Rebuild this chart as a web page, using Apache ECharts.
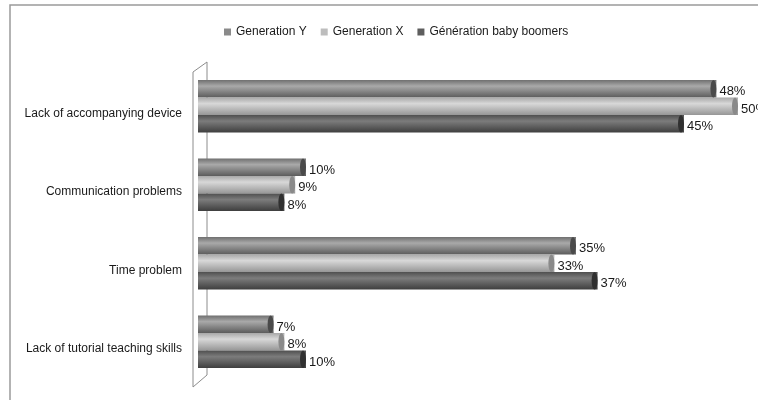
<!DOCTYPE html>
<html>
<head>
<meta charset="utf-8">
<script src="https://cdn.jsdelivr.net/npm/echarts@6/dist/echarts.min.js"></script>
<style>
  html, body { margin: 0; padding: 0; background: #fff; }
  #chart { width: 758px; height: 400px; }
</style>
</head>
<body>
<div id="chart"></div>
<script>
  // data
  var categories = ['Lack of accompanying device', 'Communication problems', 'Time problem', 'Lack of tutorial teaching skills'];
  var seriesNames = ['Generation Y', 'Generation X', 'Génération baby boomers'];
  var genY = [48, 10, 35, 7];
  var genX = [50, 9, 33, 8];
  var boomers = [45, 8, 37, 10];

  var FONT = '"Liberation Sans", Arial, sans-serif';

  // couleurs : [haut, milieu, bas, embout, legende]
  var tones = [
    ['#6f6f6f', '#a9a9a9', '#5c5c5c', '#4a4a4a', '#8a8a8a'],
    ['#a8a8a8', '#d8d8d8', '#969696', '#8a8a8a', '#bdbdbd'],
    ['#4f4f4f', '#7c7c7c', '#3e3e3e', '#303030', '#5e5e5e']
  ];

  function cylinder(t) {
    return new echarts.graphic.LinearGradient(0, 0, 0, 1, [
      {offset: 0, color: t[0]},
      {offset: 0.35, color: t[1]},
      {offset: 1, color: t[2]}
    ]);
  }

  var values = [genY, genX, boomers];
  var series = [];

  values.forEach(function (d, i) {
    series.push({
      name: seriesNames[i],
      type: 'bar',
      data: d,
      barGap: '0%',
      barCategoryGap: '33%',
      itemStyle: {color: cylinder(tones[i])},
      label: {
        show: true,
        position: 'right',
        distance: 3,
        offset: [0, 3],
        formatter: '{c}%',
        color: '#1a1a1a',
        fontSize: 13,
        fontFamily: FONT
      },
      z: 3
    });
  });

  // embouts arrondis des cylindres
  values.forEach(function (d, i) {
    series.push({
      name: seriesNames[i] + ' cap',
      type: 'pictorialBar',
      data: d,
      barGap: '0%',
      barCategoryGap: '33%',
      symbol: 'circle',
      symbolSize: [6, '100%'],
      symbolPosition: 'end',
      itemStyle: {color: tones[i][3]},
      silent: true,
      z: 4
    });
  });

  var myChart = echarts.init(document.getElementById('chart'));

  myChart.setOption({
    animation: false,
    backgroundColor: '#fff',
    legend: {
      data: seriesNames.map(function (n, i) {
        return {name: n, itemStyle: {color: tones[i][4]}};
      }),
      left: 219,
      top: 21,
      icon: 'rect',
      itemWidth: 7,
      itemHeight: 7,
      itemGap: 14,
      textStyle: {fontSize: 12, color: '#1a1a1a', fontFamily: FONT}
    },
    grid: {
      left: 198,
      right: 20,
      top: 67,
      bottom: 19,
      outerBoundsMode: 'none'
    },
    xAxis: {
      type: 'value',
      min: 0,
      max: 50,
      show: false
    },
    yAxis: {
      type: 'category',
      data: categories,
      inverse: true,
      axisLine: {show: false},
      axisTick: {show: false},
      splitLine: {show: false},
      axisLabel: {
        margin: 16,
        verticalAlign: 'top',
        lineHeight: 14,
        color: '#1a1a1a',
        fontSize: 12,
        fontFamily: FONT
      }
    },
    // cadre exterieur et paroi 3D
    graphic: [
      {
        type: 'polyline',
        shape: {points: [[10, 400], [10, 5], [758, 5]]},
        style: {stroke: '#9a9a9a', lineWidth: 1.5, fill: null},
        z: 0
      },
      {
        type: 'polygon',
        shape: {points: [[193, 72], [207, 62], [207, 375], [193, 387]]},
        style: {stroke: '#8c8c8c', lineWidth: 1, fill: '#fff'},
        z: 0
      }
    ],
    series: series
  });
</script>
</body>
</html>
